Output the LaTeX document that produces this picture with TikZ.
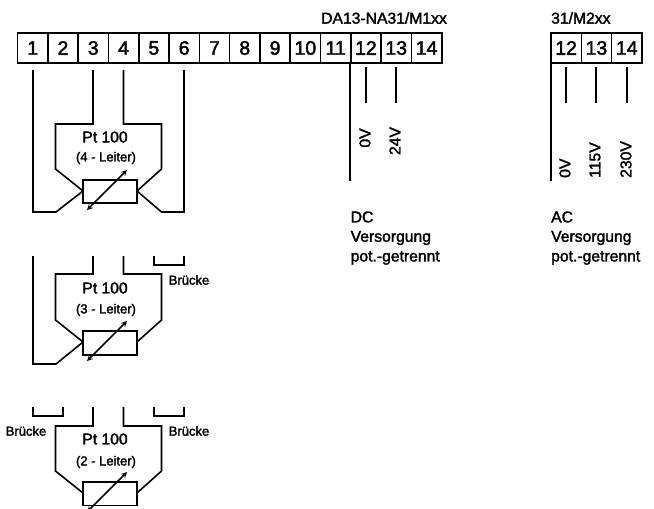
\documentclass[tikz,border=0pt]{standalone}
\usepackage{fontspec}
\setmainfont{Liberation Sans}[FakeBold=2]

\tikzset{
  wire/.style={line width=1.6pt},
  bignum/.style={font=\fontsize{19.5}{20}\selectfont},
  plainlbl/.style={font=\fontsize{15.7}{18}\selectfont},
  smalllbl/.style={font=\fontsize{13}{15}\selectfont}
}

\begin{document}
\begin{tikzpicture}[x=1pt,y=-1pt,>=stealth]
\useasboundingbox (0,0) rectangle (654,509);
%% terminal strip 1..14
\foreach \n in {1,...,14}
  \draw[wire] ({17.5+(\n-1)*30.3},33) rectangle ({17.5+\n*30.3},63) node[midway,bignum] (term\n) {\n};
%% terminal strip 12..14 on the right
\foreach \n/\k in {12/0,13/1,14/2}
  \draw[wire] ({551+\k*30.3},33) rectangle ({551+(\k+1)*30.3},63) node[midway,bignum] (acterm\n) {\n};
\node[plainlbl,anchor=west,inner sep=0pt] (dctitle) at (321,18) {DA13-NA31/M1xx};
\node[plainlbl,anchor=west,inner sep=0pt] (actitle) at (551,18) {31/M2xx};
%% four wire sensor
\draw[wire] (33,70) -- (33,212) -- (56,212) -- (83,191);
\draw[wire] (93,70) -- (93,124) -- (55.5,124) -- (55.5,169) -- (83,191);
\draw[wire] (123.5,70) -- (123.5,124) -- (161.5,124) -- (161.5,169) -- (137,191);
\draw[wire] (184,70) -- (184,212) -- (161.5,212) -- (137,191);
\draw[wire] (83,180) rectangle (137,203);
\draw[wire,<->] (87,210) -- (127,170);
\node[plainlbl] (ptfour) at (105,137) {Pt 100};
\node[smalllbl] (leiterfour) at (106,158) {(4 - Leiter)};
%% three wire sensor
\draw[wire] (33,256) -- (33,364) -- (56,364) -- (83,342);
\draw[wire] (93,256) -- (93,274) -- (55.5,274) -- (55.5,320) -- (83,342);
\draw[wire] (123.5,256) -- (123.5,274) -- (161.5,274) -- (161.5,320) -- (137,342);
\draw[wire] (154,256) -- (154,265) -- (184,265) -- (184,256);
\draw[wire] (83,331) rectangle (137,355);
\draw[wire,<->] (87,361) -- (127,321);
\node[plainlbl] (ptthree) at (105,288) {Pt 100};
\node[smalllbl] (leiterthree) at (106,310) {(3 - Leiter)};
\node[smalllbl] (brueckea) at (189,280) {Brücke};
%% two wire sensor
\draw[wire] (33,407) -- (33,416) -- (63,416) -- (63,407);
\draw[wire] (93,407) -- (93,426) -- (55.5,426) -- (55.5,471) -- (83,493);
\draw[wire] (123.5,407) -- (123.5,426) -- (161.5,426) -- (161.5,471) -- (137,493);
\draw[wire] (154,407) -- (154,416) -- (184,416) -- (184,407);
\draw[wire] (83,482) rectangle (137,505.5);
\draw[wire,<->] (87,512) -- (127,472);
\node[plainlbl] (pttwo) at (105,439) {Pt 100};
\node[smalllbl] (leitertwo) at (106,462) {(2 - Leiter)};
\node[smalllbl] (brueckeb) at (26,431) {Brücke};
\node[smalllbl] (brueckec) at (189,431) {Brücke};
%% DC supply
\draw[wire] (350,63) -- (350,181);
\draw[wire] (366,67) -- (366,103);
\draw[wire] (396,67) -- (396,103);
\node[plainlbl,rotate=90,inner sep=0pt] (dczero) at (365,138) {0V};
\node[plainlbl,rotate=90,inner sep=0pt] (dcpos) at (395,141) {24V};
\node[plainlbl,anchor=west,inner sep=0pt] (dca) at (350.5,217) {DC};
\node[plainlbl,anchor=west,inner sep=0pt] (dcb) at (350.5,238) {Versorgung};
\node[plainlbl,anchor=west,inner sep=0pt] (dcc) at (350.5,258) {pot.-getrennt};
%% AC supply
\draw[wire] (551,63) -- (551,181);
\draw[wire] (566,67) -- (566,103);
\draw[wire] (596,67) -- (596,103);
\draw[wire] (627,67) -- (627,103);
\node[plainlbl,rotate=90,anchor=west,inner sep=0pt] (aczero) at (565,178) {0V};
\node[plainlbl,rotate=90,anchor=west,inner sep=0pt] (acmid) at (595,178) {115V};
\node[plainlbl,rotate=90,anchor=west,inner sep=0pt] (achigh) at (626,178) {230V};
\node[plainlbl,anchor=west,inner sep=0pt] (aca) at (551,217) {AC};
\node[plainlbl,anchor=west,inner sep=0pt] (acb) at (551,238) {Versorgung};
\node[plainlbl,anchor=west,inner sep=0pt] (acc) at (551,258) {pot.-getrennt};
\end{tikzpicture}
\end{document}
